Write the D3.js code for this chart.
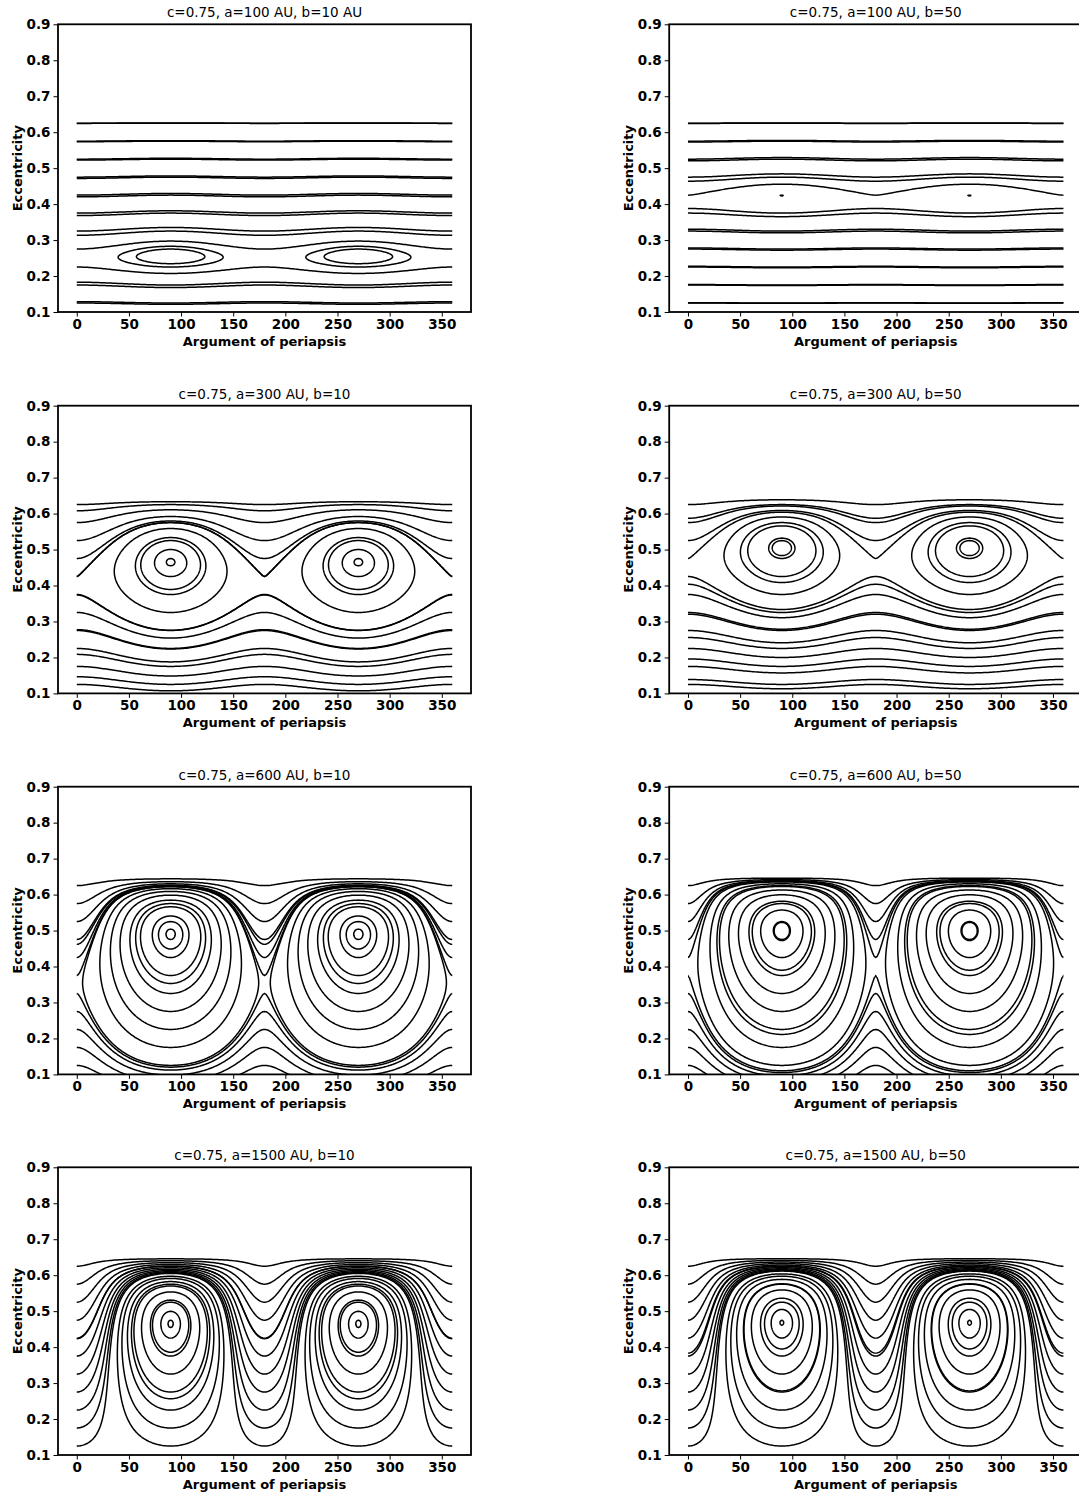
<!DOCTYPE html>
<html>
<head>
<meta charset="utf-8">
<script src="https://cdn.jsdelivr.net/npm/d3@7"></script>
<style>
  body { margin: 0; background: #fff; }
  svg { display: block; }
  .tick text { font-family: "DejaVu Sans", sans-serif; font-weight: bold; font-size: 13.5px; fill: #000; }
  .tick line { stroke: #000; stroke-width: 1; }
</style>
</head>
<body>
<script>
// Panel titles, row by row (left, right)
const panelTitles = [
  "c=0.75, a=100 AU, b=10 AU", "c=0.75, a=100 AU, b=50",
  "c=0.75, a=300 AU, b=10",    "c=0.75, a=300 AU, b=50",
  "c=0.75, a=600 AU, b=10",    "c=0.75, a=600 AU, b=50",
  "c=0.75, a=1500 AU, b=10",   "c=0.75, a=1500 AU, b=50"
];

// Hyperbolic fixed point (at ω = 0°/180°) per panel; null where none exists
const saddleEcc   = [0.25, 0.422, 0.421, 0.47, 0.35, 0.39, null, null];
// Elliptic fixed point (centre of the libration islands at ω = 90°/270°)
const islandEcc   = [0.2555, 0.4239, 0.465, 0.505, 0.49, 0.50, 0.465, 0.468];
// Upper eccentricity envelope of the secular term
const envelopeEcc = [0.648, 0.648, 0.6403, 0.6465, 0.648, 0.648, 0.648, 0.648];
// Steepness of the secular term near the envelope
const shapeExp    = [3, 3, 4.3, 6.78, 3.2, 2.85, 2.3, 2.2];

// Initial conditions of the plotted trajectories
const startOmega = [0, 90];
const startEcc   = [0.125, 0.175, 0.225, 0.275, 0.325, 0.375, 0.425, 0.475, 0.525, 0.575, 0.625];

// Axis ticks
const xTicks = [0, 50, 100, 150, 200, 250, 300, 350];
const yTicks = [0.1, 0.2, 0.3, 0.4, 0.5, 0.6, 0.7, 0.8, 0.9];

// Figure layout
const W = 1079, H = 1497;
const colLeft = [58, 669.2];
const rowTop = [24.3, 405.7, 786.7, 1167.3];
const axW = 413, axH = 287.7;

const svg = d3.select("body").append("svg").attr("width", W).attr("height", H);

// Conserved quantity H(ω, e) = A(e) + B(e) sin²ω
function makeField(i) {
  const E = envelopeEcc[i] ** 2, k = shapeExp[i];
  const xc = islandEcc[i] ** 2;
  const dB = 1 - (k + 1) * Math.pow(xc / E, k);
  let g0, g1;
  if (saddleEcc[i] == null) { g1 = 0; g0 = -dB; }
  else { const xs = saddleEcc[i] ** 2; g1 = dB / (xc - xs); g0 = g1 * xs; }
  return (w, e) => {
    const x = e * e;
    const s = Math.sin(w * Math.PI / 180) ** 2;
    const B = x < E ? x * (1 - Math.pow(x / E, k)) : 0;
    return g0 * x - 0.5 * g1 * x * x + B * s;
  };
}

// Sampling grid for the level sets
const W0 = -15, W1 = 375, dW = 1.5;
const E0 = 0.03, E1 = 0.70, dE = 0.0015;
const nx = Math.round((W1 - W0) / dW) + 1;
const ny = Math.round((E1 - E0) / dE) + 1;
const contourGen = d3.contours().size([nx, ny]).smooth(true);

const onBorder = p => p[0] <= 0 || p[0] >= nx || p[1] <= 0 || p[1] >= ny;

// Break a ring into open polylines, dropping pieces that run along the grid border
function splitRing(ring) {
  let pts = ring.slice();
  const last = pts[pts.length - 1], first = pts[0];
  if (last[0] === first[0] && last[1] === first[1]) pts.pop();
  const s = pts.findIndex(onBorder);
  if (s < 0) { pts.push(pts[0]); return [pts]; }
  const rot = pts.slice(s).concat(pts.slice(0, s));
  rot.push(rot[0]);
  const lines = [];
  let cur = [];
  for (let t = 0; t < rot.length - 1; t++) {
    const a = rot[t], b = rot[t + 1];
    if (onBorder(a) && onBorder(b)) {
      if (cur.length > 1) lines.push(cur);
      cur = [];
      continue;
    }
    if (cur.length === 0) cur.push(a);
    cur.push(b);
  }
  if (cur.length > 1) lines.push(cur);
  return lines;
}

const toData = p => [W0 + (p[0] - 0.5) * dW, E0 + (p[1] - 0.5) * dE];

panelTitles.forEach((title, i) => {
  const col = i % 2, row = Math.floor(i / 2);
  const g = svg.append("g").attr("transform", `translate(${colLeft[col]},${rowTop[row]})`);

  const x = d3.scaleLinear().domain([-18, 378]).range([0, axW]);
  const y = d3.scaleLinear().domain([0.1, 0.9]).range([axH, 0]);

  const clipId = "clip" + i;
  g.append("clipPath").attr("id", clipId)
    .append("rect")
    .attr("x", x(0)).attr("y", 0)
    .attr("width", x(360) - x(0)).attr("height", axH);

  // Field values on the grid
  const field = makeField(i);
  const values = new Float64Array(nx * ny);
  for (let j = 0; j < ny; j++) {
    const e = E0 + j * dE;
    for (let k = 0; k < nx; k++) values[j * nx + k] = field(W0 + k * dW, e);
  }

  const line = d3.line().x(p => x(p[0])).y(p => y(p[1]));
  const curves = g.append("g").attr("clip-path", `url(#${clipId})`);

  startOmega.forEach(w0 => {
    startEcc.forEach(e0 => {
      const level = field(w0, e0);
      const mp = contourGen.contour(values, level);
      const anchors = [[w0, e0], [w0 + 180, e0]];
      mp.coordinates.forEach(poly => poly.forEach(ring => {
        splitRing(ring).forEach(pl => {
          const data = pl.map(toData);
          let best = Infinity;
          data.forEach(p => anchors.forEach(a => {
            const dx = (p[0] - a[0]) / dW, dy = (p[1] - a[1]) / dE;
            const d = dx * dx + dy * dy;
            if (d < best) best = d;
          }));
          if (best < 6.25) {
            curves.append("path")
              .attr("d", line(data))
              .attr("fill", "none")
              .attr("stroke", "#000")
              .attr("stroke-width", 1.5)
              .attr("stroke-linejoin", "round");
          }
        });
      }));
    });
  });

  // Axes
  const xAxis = g.append("g").attr("transform", `translate(0,${axH})`)
    .call(d3.axisBottom(x).tickValues(xTicks).tickSize(4.5).tickPadding(3));
  xAxis.select(".domain").remove();
  const yAxis = g.append("g")
    .call(d3.axisLeft(y).tickValues(yTicks).tickFormat(d3.format(".1f")).tickSize(4.5).tickPadding(3));
  yAxis.select(".domain").remove();

  // Frame
  g.append("rect").attr("x", 0).attr("y", 0).attr("width", axW).attr("height", axH)
    .attr("fill", "none").attr("stroke", "#000").attr("stroke-width", 1.8);

  // Labels
  g.append("text").attr("x", axW / 2).attr("y", -7)
    .attr("text-anchor", "middle")
    .style("font-family", "DejaVu Sans, sans-serif").style("font-size", "13.5px")
    .text(title);
  g.append("text").attr("x", axW / 2).attr("y", axH + 34)
    .attr("text-anchor", "middle")
    .style("font-family", "DejaVu Sans, sans-serif").style("font-size", "13px").style("font-weight", "bold")
    .text("Argument of periapsis");
  g.append("text")
    .attr("transform", `translate(${-36},${axH / 2}) rotate(-90)`)
    .attr("text-anchor", "middle")
    .style("font-family", "DejaVu Sans, sans-serif").style("font-size", "13px").style("font-weight", "bold")
    .text("Eccentricity");
});
</script>
</body>
</html>
